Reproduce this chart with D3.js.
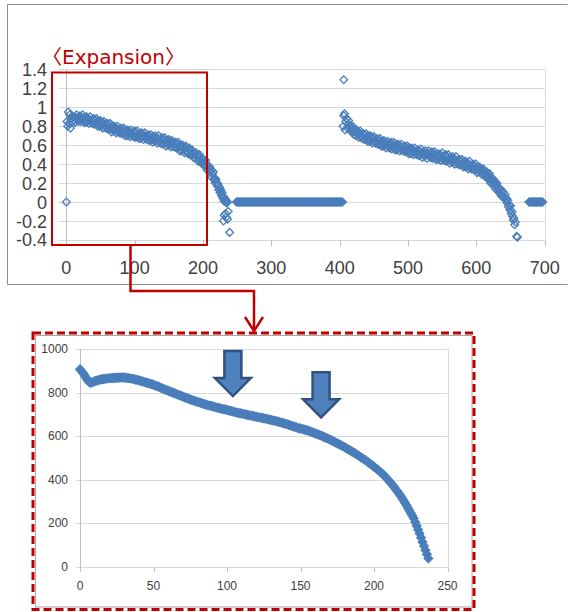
<!DOCTYPE html>
<html><head><meta charset="utf-8">
<script src="https://cdn.jsdelivr.net/npm/d3@7"></script>
<style>body{margin:0;background:#fff}svg{display:block}</style>
</head><body>
<svg id="c" width="568" height="612"></svg>
<script>
// ---------- DATA ----------
const titleText = "〈Expansion〉";
const topYTicks = [-0.4,-0.2,0,0.2,0.4,0.6,0.8,1,1.2,1.4];
const topXTicks = [0,100,200,300,400,500,600,700];
const bottomYTicks = [0,200,400,600,800,1000];
const bottomXTicks = [0,50,100,150,200,250];

// top chart: isolated points
const topExtraX = [0, 406];
const topExtraY = [0, 1.29];
// top chart: first segment, x = 1..219
const topAStart = 1;
const topAValues = [
 .85,.80,.95,.83,.92,.78,.88,.84,.90,
 .90,.86,.90,.84,.89,.92,.86,.88,.85,.90,
 .91,.85,.89,.86,.92,.87,.84,.90,.87,.84,
 .90,.86,.88,.83,.87,.90,.84,.86,.83,.87,
 .88,.82,.86,.83,.88,.83,.80,.86,.83,.80,
 .86,.81,.84,.78,.83,.85,.79,.81,.78,.82,
 .83,.77,.81,.77,.83,.78,.74,.80,.78,.75,
 .80,.76,.79,.73,.77,.80,.74,.76,.73,.77,
 .78,.72,.76,.73,.78,.73,.70,.76,.74,.70,
 .76,.72,.75,.69,.73,.76,.70,.72,.69,.74,
 .75,.68,.72,.69,.75,.70,.67,.72,.70,.67,
 .73,.69,.72,.66,.70,.73,.67,.69,.66,.70,
 .71,.65,.69,.66,.71,.66,.63,.69,.67,.64,
 .70,.65,.68,.62,.67,.70,.63,.65,.62,.67,
 .68,.61,.65,.62,.68,.63,.59,.65,.63,.60,
 .66,.61,.64,.58,.63,.65,.59,.61,.58,.62,
 .63,.57,.61,.57,.63,.58,.54,.60,.58,.54,
 .60,.56,.58,.52,.57,.59,.53,.54,.51,.56,
 .57,.50,.54,.50,.55,.50,.47,.52,.50,.46,
 .52,.48,.50,.43,.48,.50,.43,.44,.41,.45,
 .45,.39,.42,.38,.44,.38,.34,.39,.36,.32,
 .37,.32,.34,.26,.30,.32,.24,.25,.20,.24
];
const topATailX = [220,221,222,223,224,225,226,227,228,229,230,231,232,233,234,235,236,230,231,233,234,236,237,239];
const topATailY = [0.21,0.17,0.19,0.13,0.16,0.10,0.13,0.07,0.10,0.04,0.06,0.01,0.04,0.0,0.02,-0.01,0.0,-0.20,-0.14,-0.12,-0.16,-0.18,-0.10,-0.32];
// top chart: zero run, x = 249..404
const topZeroAStart = 249;
const topZeroAValues = [
 0,0,0,0,0,0,0,0,0,0,0,0,0,0,0,0,0,0,0,0,0,0,0,0,0,0,0,0,0,0,0,0,0,0,0,0,0,0,0,0,
 0,0,0,0,0,0,0,0,0,0,0,0,0,0,0,0,0,0,0,0,0,0,0,0,0,0,0,0,0,0,0,0,0,0,0,0,0,0,0,0,
 0,0,0,0,0,0,0,0,0,0,0,0,0,0,0,0,0,0,0,0,0,0,0,0,0,0,0,0,0,0,0,0,0,0,0,0,0,0,0,0,
 0,0,0,0,0,0,0,0,0,0,0,0,0,0,0,0,0,0,0,0,0,0,0,0,0,0,0,0,0,0,0,0,0,0,0,0
];
// top chart: second segment, x = 405..640
const topBStart = 405;
const topBValues = [
 .80,.91,.93,.76,.85,.88,.78,.82,.86,.79,
 .81,.75,.78,.75,.80,.74,.71,.76,.74,.70,
 .76,.72,.74,.68,.72,.75,.69,.70,.67,.72,
 .72,.66,.70,.67,.72,.67,.64,.70,.67,.64,
 .70,.65,.68,.62,.67,.69,.63,.65,.62,.66,
 .67,.61,.65,.61,.67,.62,.59,.64,.62,.59,
 .65,.60,.63,.57,.62,.64,.58,.60,.57,.62,
 .63,.56,.60,.57,.63,.58,.55,.61,.59,.55,
 .61,.57,.60,.54,.58,.61,.55,.57,.54,.58,
 .59,.53,.57,.54,.59,.54,.51,.57,.55,.51,
 .57,.53,.56,.50,.54,.57,.51,.53,.50,.54,
 .55,.49,.53,.50,.56,.51,.47,.53,.51,.48,
 .54,.50,.52,.46,.51,.54,.48,.50,.47,.52,
 .53,.46,.50,.47,.53,.48,.45,.51,.48,.45,
 .51,.47,.50,.44,.49,.52,.45,.47,.44,.49,
 .50,.43,.47,.44,.50,.45,.41,.47,.45,.42,
 .48,.43,.46,.40,.45,.48,.41,.43,.40,.44,
 .45,.39,.43,.39,.45,.40,.37,.43,.40,.37,
 .43,.38,.41,.35,.40,.43,.36,.38,.35,.39,
 .40,.34,.38,.34,.40,.35,.31,.37,.35,.32,
 .37,.33,.35,.29,.33,.35,.29,.30,.27,.31,
 .32,.25,.28,.25,.30,.24,.20,.26,.23,.19,
 .24,.19,.21,.14,.18,.20,.13,.14,.10,.14,
 .14,.07,.10,.06,.11,.05
];
const topBTailX = [641,642,643,644,645,646,647,648,649,650,651,652,653,654,655,656,657,659,660];
const topBTailY = [0.05,0.08,0.02,0.04,-0.01,0.02,-0.05,-0.03,-0.08,-0.04,-0.12,-0.10,-0.15,-0.19,-0.17,-0.24,-0.21,-0.36,-0.37];
// top chart: zero run, x = 677..697
const topZeroBStart = 677;
const topZeroBValues = [0,0,0,0,0,0,0,0,0,0,0,0,0,0,0,0,0,0,0,0,0];

// bottom chart (zoom of first segment), x = 0..237
const bottomStart = 0;
const bottomValues = [
 907,899,890,880,869,858,850,845,846,849,
 852,854,856,858,860,861,862,863,864,865,
 866,866,867,867,868,868,868,869,869,869,
 869,868,867,866,865,864,863,861,859,858,
 856,854,852,850,848,846,844,842,840,838,
 836,833,830,828,825,822,819,816,814,811,
 808,805,803,800,798,795,792,789,787,784,
 781,778,776,773,771,768,766,764,761,759,
 757,755,753,750,748,746,744,742,740,739,
 737,735,733,731,730,728,726,725,723,722,
 720,718,716,715,713,711,709,708,706,705,
 703,702,700,699,697,696,694,693,692,690,
 689,687,686,685,683,682,680,679,677,676,
 674,672,671,669,668,666,664,662,660,658,
 656,654,652,649,647,645,643,641,638,636,
 635,633,631,629,627,625,623,620,618,615,
 612,610,607,605,602,599,596,593,590,587,
 584,581,577,574,570,567,563,560,556,553,
 549,545,541,537,533,529,525,521,517,512,
 508,503,499,494,490,485,480,475,470,465,
 459,454,448,443,437,431,425,418,411,404,
 396,388,380,372,363,354,345,335,326,316,
 305,294,283,271,259,247,235,222,205,188,
 170,152,133,114,95,76,57,38
];
// annotation arrows in bottom chart (data coords of tip)
const arrowX = [104, 164];
const arrowTipY = [784, 686];

// ---------- DRAW ----------
const svg = d3.select("#c");
const blue = "#4a7ebb", red = "#c00000", grid = "#d9d9d9", axisC = "#bfbfbf";
const labelFont = "'Liberation Sans', Arial, sans-serif";

// top chart frame
svg.append("path").attr("d","M567.5,4.5H7.5V284.5H567.5").attr("fill","none").attr("stroke","#8c8c8c").attr("stroke-width",1);

const xT = d3.scaleLinear().domain([0,700]).range([66.3,544.7]);
const yT = d3.scaleLinear().domain([-0.4,1.4]).range([240,69.3]);
const gT = svg.append("g");
gT.selectAll("line.gy").data(topYTicks).join("line")
  .attr("x1",58.5).attr("x2",xT(700)).attr("y1",d=>Math.round(yT(d))+0.5).attr("y2",d=>Math.round(yT(d))+0.5)
  .attr("stroke",grid).attr("stroke-width",1);
gT.selectAll("line.tx").data(topXTicks).join("line")
  .attr("x1",d=>Math.round(xT(d))+0.5).attr("x2",d=>Math.round(xT(d))+0.5)
  .attr("y1",Math.round(yT(-0.4))).attr("y2",Math.round(yT(-0.4))+6)
  .attr("stroke",axisC);
gT.append("line").attr("x1",Math.round(xT(0))+0.5).attr("x2",Math.round(xT(0))+0.5)
  .attr("y1",yT(1.4)).attr("y2",yT(-0.4)+6).attr("stroke",axisC);
gT.append("line").attr("x1",Math.round(xT(700))+0.5).attr("x2",Math.round(xT(700))+0.5)
  .attr("y1",yT(1.4)).attr("y2",yT(-0.4)).attr("stroke",grid);
gT.selectAll("text.ly").data(topYTicks).join("text")
  .attr("x",47).attr("y",d=>yT(d)).attr("dy","0.36em").attr("text-anchor","end")
  .attr("font-family",labelFont).attr("font-size",18).attr("fill","#404040").text(d=>String(d));
gT.selectAll("text.lx").data(topXTicks).join("text")
  .attr("x",d=>xT(d)).attr("y",273.5).attr("text-anchor","middle")
  .attr("font-family",labelFont).attr("font-size",18).attr("fill","#404040").text(d=>String(d));

// assemble top points
const topPts = [];
topPts.push([topExtraX[0], topExtraY[0]]);
topAValues.forEach((v,i)=>topPts.push([topAStart+i, v]));
topATailX.forEach((x,i)=>topPts.push([x, topATailY[i]]));
topZeroAValues.forEach((v,i)=>topPts.push([topZeroAStart+i, v]));
topPts.push([topExtraX[1], topExtraY[1]]);
topBValues.forEach((v,i)=>topPts.push([topBStart+i, v]));
topBTailX.forEach((x,i)=>topPts.push([x, topBTailY[i]]));
topZeroBValues.forEach((v,i)=>topPts.push([topZeroBStart+i, v]));

const diamondT = d3.symbol().type(d3.symbolSquare).size(30)();
gT.selectAll("path.pt").data(topPts).join("path")
  .attr("d",diamondT)
  .attr("transform",d=>`translate(${xT(d[0])},${yT(d[1])}) rotate(45)`)
  .attr("fill","none").attr("stroke",blue).attr("stroke-width",1.3);

// title + red highlight box
svg.append("text").attr("x",42).attr("y",64).attr("font-family","'DejaVu Sans','Noto Sans CJK KR',sans-serif")
  .attr("font-size",20).attr("fill",red).text(titleText);
svg.append("rect").attr("x",52).attr("y",72.5).attr("width",155).attr("height",172.5)
  .attr("fill","none").attr("stroke",red).attr("stroke-width",2);
// connector
svg.append("path").attr("d","M130.5,245V291H254V330").attr("fill","none").attr("stroke",red).attr("stroke-width",2.5);
svg.append("path").attr("d","M245,317L254,331L263,317").attr("fill","none").attr("stroke",red).attr("stroke-width",2.5);

// bottom chart frame
svg.append("rect").attr("x",35.5).attr("y",335.5).attr("width",436.5).attr("height",271.5)
  .attr("fill","#fff").attr("stroke","#a6a6a6").attr("stroke-width",1);
svg.append("rect").attr("x",33).attr("y",333).attr("width",441).attr("height",276.5)
  .attr("fill","none").attr("stroke",red).attr("stroke-width",3).attr("stroke-dasharray","8,4");

const xB = d3.scaleLinear().domain([0,250]).range([80,447.5]);
const yB = d3.scaleLinear().domain([0,1000]).range([566.7,349]);
const gB = svg.append("g");
gB.selectAll("line.gy").data(bottomYTicks).join("line")
  .attr("x1",76).attr("x2",xB(250)).attr("y1",d=>Math.round(yB(d))+0.5).attr("y2",d=>Math.round(yB(d))+0.5)
  .attr("stroke",grid);
gB.selectAll("line.tx").data(bottomXTicks).join("line")
  .attr("x1",d=>Math.round(xB(d))+0.5).attr("x2",d=>Math.round(xB(d))+0.5)
  .attr("y1",Math.round(yB(0))).attr("y2",Math.round(yB(0))+5).attr("stroke",axisC);
gB.append("line").attr("x1",Math.round(xB(0))+0.5).attr("x2",Math.round(xB(0))+0.5)
  .attr("y1",yB(1000)).attr("y2",yB(0)+5).attr("stroke",axisC);
gB.append("line").attr("x1",Math.round(xB(250))+0.5).attr("x2",Math.round(xB(250))+0.5)
  .attr("y1",yB(1000)).attr("y2",yB(0)).attr("stroke",grid);
gB.selectAll("text.ly").data(bottomYTicks).join("text")
  .attr("x",68).attr("y",d=>yB(d)).attr("dy","0.36em").attr("text-anchor","end")
  .attr("font-family",labelFont).attr("font-size",12).attr("fill","#404040").text(d=>String(d));
gB.selectAll("text.lx").data(bottomXTicks).join("text")
  .attr("x",d=>xB(d)).attr("y",590).attr("text-anchor","middle")
  .attr("font-family",labelFont).attr("font-size",12).attr("fill","#404040").text(d=>String(d));

const diamondB = d3.symbol().type(d3.symbolSquare).size(40)();
gB.selectAll("path.pt").data(bottomValues).join("path")
  .attr("d",diamondB)
  .attr("transform",(d,i)=>`translate(${xB(bottomStart+i)},${yB(d)}) rotate(45)`)
  .attr("fill",blue).attr("stroke",blue).attr("stroke-width",1);

// block arrows
function blockArrow(cx, tip){
  const L=45, hl=18, sw=8.5, hw=18;
  const top = tip - L, hb = tip - hl;
  return `M${cx-sw},${top}H${cx+sw}V${hb}H${cx+hw}L${cx},${tip}L${cx-hw},${hb}H${cx-sw}Z`;
}
gB.selectAll("path.arr").data(arrowX).join("path")
  .attr("d",(d,i)=>blockArrow(xB(d), yB(arrowTipY[i])))
  .attr("fill","#4f81bd").attr("stroke","#2f5283").attr("stroke-width",2.5).attr("stroke-linejoin","miter");
</script>
</body></html>
